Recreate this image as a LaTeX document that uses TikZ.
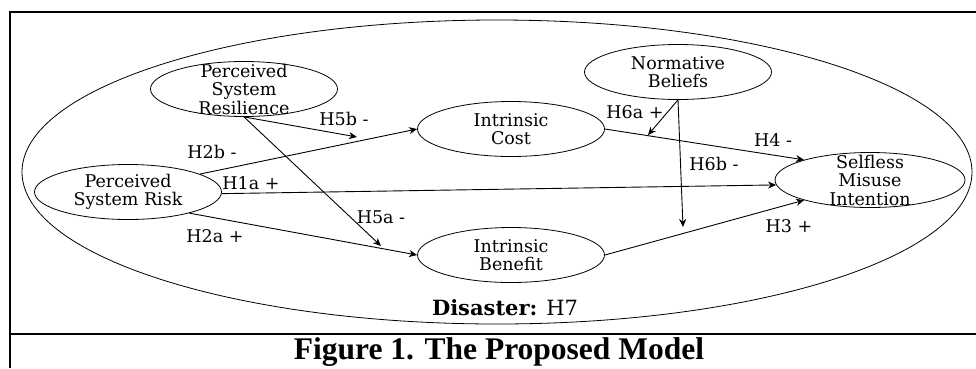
\documentclass[tikz,border=0pt]{standalone}
\usepackage{fontspec}
\setmainfont{DejaVu Serif}
\newfontfamily\capfont{Liberation Serif}
\usetikzlibrary{shapes.geometric,arrows.meta}
\begin{document}
\begin{tikzpicture}[x=1pt,y=-1pt,
  frameline/.style={line width=2.3pt},
  construct/.style={draw, ellipse, line width=0.8pt, minimum width=187pt, minimum height=55pt, inner sep=0pt},
  ctext/.style={align=center, font=\fontsize{17.5}{18.5}\selectfont, inner sep=0pt},
  hyp/.style={-{Stealth[length=8pt,width=7pt,inset=2.5pt]}, line width=0.9pt},
  hlabel/.style={font=\fontsize{17.5}{18.5}\selectfont, inner sep=0pt}]
\useasboundingbox (0,0) rectangle (976,368);
% frame
\draw[frameline] (10,368) -- (10,12) -- (976,12);
\draw[frameline] (10,334) -- (976,334);
% context ellipse
\draw[line width=0.8pt] (497,172) ellipse [x radius=475, y radius=152];
% constructs
\node[construct, label={[ctext]center:Perceived\\System\\Resilience}] (res) at (244,89) {};
\node[construct, label={[ctext]center:Perceived\\System Risk}] (risk) at (128,192) {};
\node[construct, label={[ctext]center:Intrinsic\\Cost}] (ic) at (511,129) {};
\node[construct, label={[ctext]center:Intrinsic\\Benefit}] (ib) at (511,255) {};
\node[construct, label={[ctext]center:Normative\\Beliefs}] (nb) at (678,72) {};
\node[construct, minimum width=190pt, label={[ctext]center:Selfless\\Misuse\\Intention}] (smi) at (870,180) {};
% moderation targets
\coordinate (m5b) at (357,137);
\coordinate (m5a) at (381,246);
\coordinate (m6a) at (648,135);
\coordinate (m6b) at (683,227);
% paths
\draw[hyp] (risk.14) -- (ic.west);
\draw[hyp] (risk.-1) -- (smi.183);
\draw[hyp] (risk.-19) -- (ib.west);
\draw[hyp] (ic.east) -- (smi.163);
\draw[hyp] (ib.east) -- (smi.197);
\draw[hyp] (res.south) -- (m5b);
\draw[hyp] (res.south) -- (m5a);
\draw[hyp] (nb.south) -- (m6a);
\draw[hyp] (nb.south) -- (m6b);
% labels
\node[hlabel] (l5b) at (344,119) {H5b -};
\node[hlabel] (l2b) at (212,152) {H2b -};
\node[hlabel] (l1a) at (251,183) {H1a +};
\node[hlabel] (l5a) at (381,217) {H5a -};
\node[hlabel] (l2a) at (215,236) {H2a +};
\node[hlabel] (l6a) at (635,112) {H6a +};
\node[hlabel] (l4) at (773,140) {H4 -};
\node[hlabel] (l6b) at (714,164) {H6b -};
\node[hlabel] (l3) at (789,226) {H3 +};
\node[hlabel, font=\fontsize{21}{22}\selectfont] (dis) at (505,308) {\textbf{Disaster:} H7};
% caption
\node[font=\capfont\bfseries\fontsize{31.5}{34}\selectfont, inner sep=0pt] (cap) at (499,352) {Figure 1. The Proposed Model};
\end{tikzpicture}
\end{document}
